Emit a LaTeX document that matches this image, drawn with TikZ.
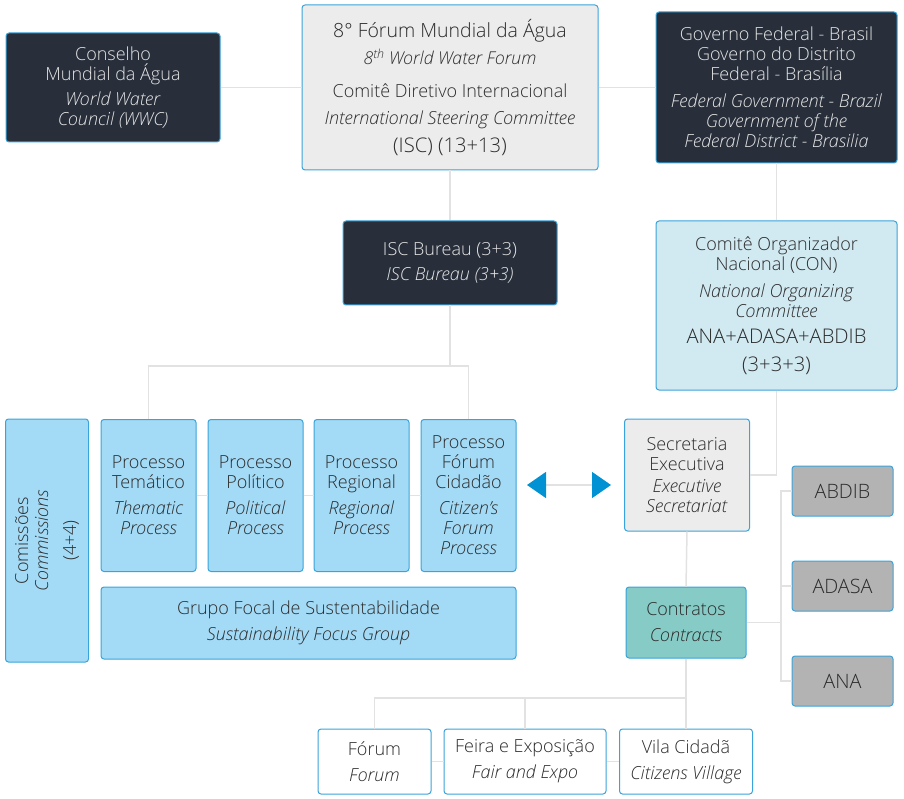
\documentclass[tikz,border=0pt]{standalone}
\usepackage{fontspec}
\IfFontExistsTF{Open Sans Light}{\setmainfont{Open Sans Light}}{\setmainfont{Open Sans}}
\usepackage{xcolor}
\usepackage{tikz}
\usetikzlibrary{arrows.meta,positioning,calc}
\definecolor{wwfdark}{HTML}{282F3B}
\definecolor{wwfedge}{HTML}{3AA3DA}
\definecolor{wwfgray}{HTML}{ECECEC}
\definecolor{wwfcon}{HTML}{D1E9F1}
\definecolor{wwfproc}{HTML}{A3DAF6}
\definecolor{wwfteal}{HTML}{86CBC5}
\definecolor{wwfside}{HTML}{B3B3B3}
\definecolor{wwfline}{HTML}{E2E2E2}
\definecolor{wwfblue}{HTML}{0092D2}
\definecolor{wwftext}{HTML}{2B2B2B}
\definecolor{wwflight}{HTML}{E6E6E6}
\newcommand{\wbig}{\fontsize{20.2}{22}\selectfont}
\tikzset{
  box/.style={rounded corners=3pt,draw=wwfedge,line width=1pt,fill=white,text=wwftext,align=center,inner sep=2pt,font=\fontsize{18}{20}\selectfont},
  darkbox/.style={box,fill=wwfdark,text=wwflight},
  greybox/.style={box,fill=wwfgray},
  conbox/.style={box,fill=wwfcon},
  procbox/.style={box,fill=wwfproc,minimum width=95pt,minimum height=152pt},
  contbox/.style={box,fill=wwfteal},
  sidebox/.style={box,fill=wwfside,minimum width=101pt,minimum height=50pt,font=\fontsize{19.8}{20}\selectfont},
  venue/.style={box,minimum height=65pt},
  ln/.style={draw=wwfline,line width=1.5pt},
  bigtip/.tip={Triangle[length=19pt,width=26pt,color=wwfblue,fill=wwfblue]},
}

\begin{document}
\begin{tikzpicture}[x=1pt,y=-1pt]
  \useasboundingbox (0,0) rectangle (904,799);
  % governance, top row
  \node[darkbox,minimum width=214pt,minimum height=109pt] (wwc) at (113,87.5)
    {Conselho\\Mundial da Água\\[5pt]\textit{World Water}\\\textit{Council (WWC)}};
  \node[greybox,minimum width=296pt,minimum height=165pt] (isc) at (450,87.5)
    {{\fontsize{19.5}{20}\selectfont 8° Fórum Mundial da Água}\\[6pt]
     {\fontsize{17.7}{18}\selectfont\itshape 8\textsuperscript{th} World Water Forum}\\[13pt]
     Comitê Diretivo Internacional\\[7pt]
     \textit{International Steering Committee}\\[8pt]
     {\wbig (ISC) (13+13)}};
  \node[darkbox,minimum width=241pt,minimum height=151pt] (gov) at (776.5,87.5)
    {Governo Federal - Brasil\\Governo do Distrito\\Federal - Brasília\\[7pt]
     \textit{Federal Government - Brazil}\\\textit{Government of the}\\\textit{Federal District - Brasilia}};
  \node[darkbox,minimum width=214pt,minimum height=84pt] (bureau) at (450,263)
    {ISC Bureau (3+3)\\[5pt]\textit{ISC Bureau (3+3)}};
  \node[conbox,minimum width=241pt,minimum height=169pt] (con) at (776.5,305.5)
    {Comitê Organizador\\Nacional (CON)\\[7pt]
     \textit{National Organizing}\\\textit{Committee}\\[6pt]
     {\wbig ANA+ADASA+ABDIB}\\[8pt]{\wbig (3+3+3)}};

  % processes
  \node[procbox,rotate=90,minimum width=243pt,minimum height=83pt] (com) at (47,540.5)
    {Comissões\\\textit{Commissions}\\[8pt](4+4)};
  \node[procbox] (pt) at (148.5,495.5) {Processo\\Temático\\[6pt]\textit{Thematic}\\\textit{Process}};
  \node[procbox] (pp) at (255.5,495.5) {Processo\\Político\\[6pt]\textit{Political}\\\textit{Process}};
  \node[procbox] (pr) at (361.5,495.5) {Processo\\Regional\\[6pt]\textit{Regional}\\\textit{Process}};
  \node[procbox] (pc) at (468.5,495.5) {Processo\\Fórum\\Cidadão\\[6pt]\textit{Citizen’s}\\\textit{Forum}\\\textit{Process}};
  \node[procbox,minimum width=415pt,minimum height=72pt] (gfs) at (308.5,623)
    {Grupo Focal de Sustentabilidade\\[6pt]\textit{Sustainability Focus Group}};

  % secretariat side
  \node[greybox,minimum width=125pt,minimum height=112pt] (sec) at (687,475)
    {Secretaria\\Executiva\\[2pt]\textit{Executive}\\\textit{Secretariat}};
  \node[contbox,minimum width=120pt,minimum height=71pt] (ctr) at (686,622.5)
    {Contratos\\[6pt]\textit{Contracts}};
  \node[sidebox] (abdib) at (842.5,491) {ABDIB};
  \node[sidebox] (adasa) at (842.5,586) {ADASA};
  \node[sidebox] (ana) at (842.5,681) {ANA};
  \node[venue,minimum width=113pt] (forum) at (374.5,761.5) {Fórum\\[6pt]\textit{Forum}};
  \node[venue,minimum width=162pt] (feira) at (525,761.5) {Feira e Exposição\\[6pt]\textit{Fair and Expo}};
  \node[venue,minimum width=133pt] (vila) at (686,761.5) {Vila Cidadã\\[6pt]\textit{Citizens Village}};

  \coordinate (bj) at (450,366);
  \coordinate (bx) at (781,0);
  \coordinate (vb) at (0,698);
  \coordinate (al) at (527,485);
  \coordinate (ar) at (611,485);

  % connectors
  \draw[ln] (wwc.east) -- (isc.west);
  \draw[ln] (isc.east) -- (gov.west);
  \draw[ln] (isc.south) -- (bureau.north);
  \draw[ln] (gov.south) -- (con.north);
  \draw[ln] (bureau.south) -- (bj);
  \draw[ln] (pt.north) |- (bj) -| (pc.north);
  \draw[ln] (pt.east) -- (pp.west);
  \draw[ln] (pp.east) -- (pr.west);
  \draw[ln] (pr.east) -- (pc.west);
  \draw[ln] (con.south) |- (sec.east);
  \draw[ln] (sec.south) -- (ctr.north);
  \draw[ln] (ctr.east) -- (ctr.east -| bx);
  \draw[ln] (abdib.west) -| (bx |- ana.west) -- (ana.west);
  \draw[ln] (adasa.west) -- (adasa.west -| bx);
  \draw[ln] (ctr.south) -- (vila.north);
  \draw[ln] (forum.north) |- (vila.north |- vb);
  \draw[ln] (feira.north) -- (feira.north |- vb);
  \draw[ln] (forum.east) -- (feira.west);
  \draw[ln] (feira.east) -- (vila.west);
  \draw[ln,bigtip-bigtip] (al) -- (ar);
\end{tikzpicture}
\end{document}
